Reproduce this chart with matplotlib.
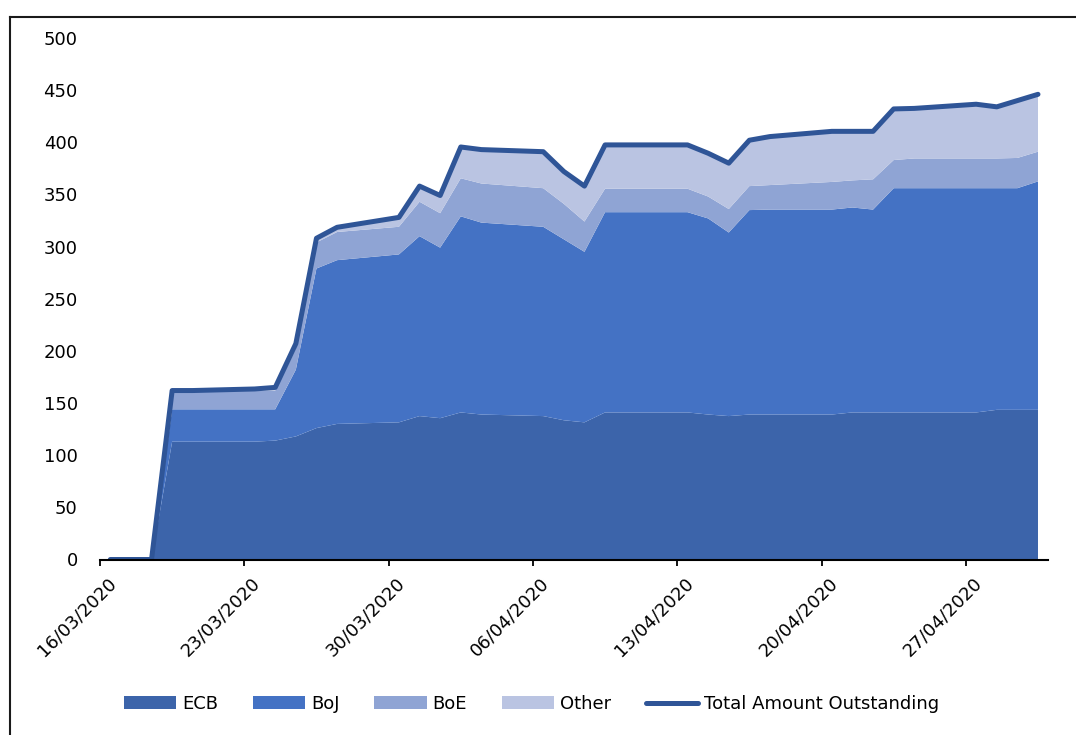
import datetime as dt

import matplotlib
matplotlib.use("Agg")
import matplotlib.pyplot as plt
import matplotlib.dates as mdates
import matplotlib.transforms as mtransforms
from matplotlib.lines import Line2D
from matplotlib.patches import Patch

# Daily holdings by central bank (business days only)
dates = ["16/03/2020", "17/03/2020", "18/03/2020", "19/03/2020", "20/03/2020",
         "23/03/2020", "24/03/2020", "25/03/2020", "26/03/2020", "27/03/2020",
         "30/03/2020", "31/03/2020", "01/04/2020", "02/04/2020", "03/04/2020",
         "06/04/2020", "07/04/2020", "08/04/2020", "09/04/2020", "10/04/2020",
         "13/04/2020", "14/04/2020", "15/04/2020", "16/04/2020", "17/04/2020",
         "20/04/2020", "21/04/2020", "22/04/2020", "23/04/2020", "24/04/2020",
         "27/04/2020", "28/04/2020", "29/04/2020", "30/04/2020"]

ecb = [0, 0, 0, 113, 113, 113, 114, 118, 126, 130,
       131.5, 137.5, 135.5, 141, 139, 137.5, 133.5, 131.5, 141, 141,
       141, 139, 137.5, 139, 139, 139, 141, 141, 141, 141,
       141, 143.5, 143.5, 143.5]
boj = [0, 0, 0, 31, 31, 31, 30, 64, 153, 157,
       161, 172.5, 163.5, 188, 184, 181.5, 173.5, 163.5, 192, 192,
       192, 188, 176, 196, 196.5, 196.5, 196.5, 194.5, 215, 215,
       215, 212.5, 212.5, 219]
boe = [0, 0, 0, 18, 18, 18, 18, 20, 25, 27,
       26.5, 33, 33, 36.5, 37.5, 37, 34, 29, 22.5, 22.5,
       22.5, 21, 22.5, 23, 23.5, 26.5, 26, 29, 27, 28.5,
       28.5, 28.5, 29, 28.5]
other = [0, 0, 0, 0, 0, 1.5, 3, 5, 4, 4.5,
         9, 15, 17, 30, 32.5, 35, 31, 34, 42, 42,
         42, 41.5, 44, 44, 46.5, 48.5, 47, 46, 49, 48,
         52, 49.5, 55, 55]

series_names = ["ECB", "BoJ", "BoE", "Other"]
total_name = "Total Amount Outstanding"
tick_dates = ["16/03/2020", "23/03/2020", "30/03/2020", "06/04/2020",
              "13/04/2020", "20/04/2020", "27/04/2020"]

colors = ["#3c64aa", "#4472c4", "#8fa4d4", "#bac4e2"]
line_color = "#2f5597"

plt.rcParams["font.family"] = ["DejaVu Sans"]
plt.rcParams["font.size"] = 13


def parse(s):
    return dt.datetime.strptime(s, "%d/%m/%Y")


# points sit in the middle of each day, like a date axis with "between tick marks"
x = [parse(d) + dt.timedelta(hours=12) for d in dates]
total = [a + b + c + d for a, b, c, d in zip(ecb, boj, boe, other)]

fig = plt.figure(figsize=(10.76, 7.35), dpi=100)
ax = fig.add_axes([100 / 1076, 175.5 / 735, 948.3 / 1076, 521.5 / 735])

ax.stackplot(x, ecb, boj, boe, other, colors=colors, linewidth=0)
ax.plot(x, total, color=line_color, linewidth=3.6,
        solid_capstyle="round", solid_joinstyle="round")

ax.set_ylim(0, 500)
ax.set_yticks(range(0, 501, 50))
ax.set_xlim(parse("16/03/2020"), parse("01/05/2020"))
ax.set_xticks([parse(d) for d in tick_dates])
ax.xaxis.set_major_formatter(mdates.DateFormatter("%d/%m/%Y"))

for side in ["left", "right", "top"]:
    ax.spines[side].set_visible(False)
ax.spines["bottom"].set_linewidth(1.5)
ax.spines["bottom"].set_zorder(5)

ax.tick_params(axis="y", length=0, pad=16, labelsize=13)
ax.tick_params(axis="x", direction="out", length=4, width=1.3, pad=3, labelsize=13)

# nudge the slanted date labels a little right and down
nudge = mtransforms.ScaledTranslation(0.07, -0.05, fig.dpi_scale_trans)
for lbl in ax.get_xticklabels():
    lbl.set_rotation(45)
    lbl.set_ha("right")
    lbl.set_va("top")
    lbl.set_rotation_mode("anchor")
    lbl.set_transform(lbl.get_transform() + nudge)

handles = [Patch(facecolor=c, edgecolor="none") for c in colors]
handles.append(Line2D([0], [0], color=line_color, linewidth=3.6, solid_capstyle="round"))
fig.legend(handles, series_names + [total_name], loc="center",
           bbox_to_anchor=(531.5 / 1076, 31 / 735), ncol=5, frameon=False,
           fontsize=13, handlelength=2.9, handleheight=0.75,
           handletextpad=0.3, columnspacing=1.95)

# chart frame
fig.add_artist(Line2D([10 / 1076, 10 / 1076], [0, 718 / 735], color="#1a1a1a", linewidth=1.5))
fig.add_artist(Line2D([10 / 1076, 1], [718 / 735, 718 / 735], color="#1a1a1a", linewidth=1.5))

fig.savefig("out.png", dpi=100)
